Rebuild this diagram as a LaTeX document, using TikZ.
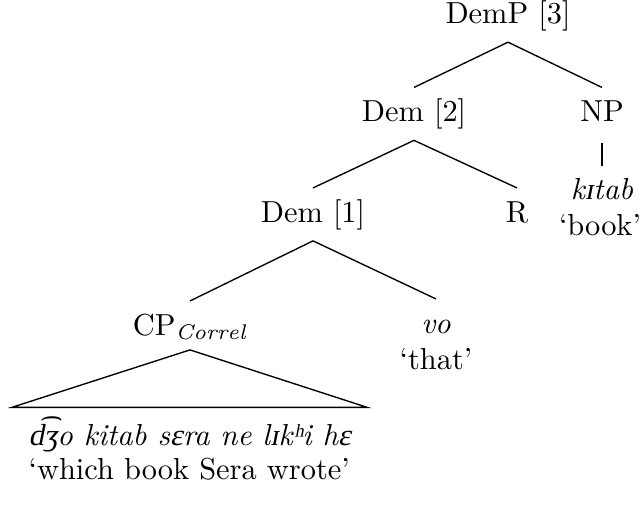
\documentclass[tikz,border=0pt]{standalone}
\usepackage{fontspec}
\newfontfamily\ipafam{Liberation Serif}[FakeSlant=0.2]
\newcommand\ipaf{\ipafam\upshape}
\begin{document}
\begin{tikzpicture}[x=0.3289pt,y=-0.3289pt,
  cat/.style={anchor=base,inner xsep=2pt,inner ysep=3.5pt,text height=7.5pt,text depth=2.5pt},
  word/.style={anchor=base,inner sep=1pt,font=\itshape},
  gloss/.style={anchor=base,inner sep=1pt},
  branch/.style={draw,line width=0.45pt}]
\useasboundingbox (0,0) rectangle (643,504);
% nodes
\node[cat] (demp) at (508,23.3) {DemP [3]};
\node[cat] (dem2) at (414,121.5) {Dem [2]};
\node[cat] (np) at (602,121.5) {NP};
\node[cat] (dem1) at (313,222) {Dem [1]};
\node[cat] (r) at (517,222) {R};
\node[cat] (cp) at (190,335) {CP$_{\mathit{Correl}}$};
\node[cat,font=\itshape] (vo) at (436,333) {vo};
\node[gloss] (that) at (436,369) {‘that’};
\node[word] (kitab) at (602,199) {k{\ipaf ɪ}tab};
\node[gloss] (book) at (600,235) {‘book’};
\node[word,anchor=base west] (sent) at (25,445) {{\ipaf d͡ʒ}o kitab s{\ipaf ɛ}ra ne l{\ipaf ɪ}k{\ipaf ʰ}i h{\ipaf ɛ}};
\node[gloss,anchor=base west] (sgloss) at (25,479) {‘which book Sera wrote’};
\coordinate (tl) at (12,407.3);
\coordinate (tr) at (367,407.3);
% branches
\path[branch] (demp.south) -- (dem2.north);
\path[branch] (demp.south) -- (np.north);
\path[branch] (dem2.south) -- (dem1.north);
\path[branch] (dem2.south) -- (r.north);
\path[branch] (dem1.south) -- (cp.north);
\path[branch] (dem1.south) -- (vo.north);
\path[branch] ([yshift=-0.75pt]np.south) -- ([yshift=2.7pt]kitab.north);
\path[branch] ([yshift=1.3pt]cp.south) -- (tl) -- (tr) -- cycle;
\end{tikzpicture}
\end{document}
